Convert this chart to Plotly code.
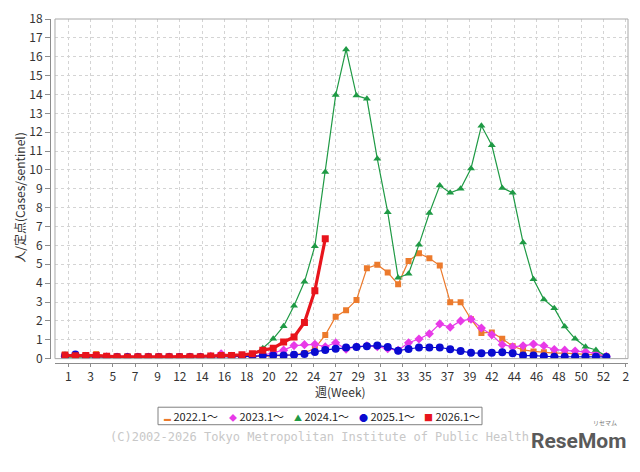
import plotly.graph_objects as go

weeks = list(range(1, 54))

y2022 = [0.22, 0.15, 0.15, 0.25, 0.13, 0.10, 0.08, 0.08, 0.08, 0.08, 0.08, 0.08, 0.08, 0.08, 0.08, 0.10, 0.10, 0.10,
         0.10, 0.12, 0.15, 0.17, 0.20, 0.30, 0.55, 1.25, 2.22, 2.56, 3.11, 4.79, 4.98, 4.57, 3.94, 5.18, 5.58, 5.32,
         4.93, 2.99, 2.99, 2.09, 1.36, 1.39, 1.05, 0.66, 0.46, 0.38, 0.34, 0.29, 0.29, 0.26, 0.24, 0.20, 0.12]
y2023 = [0.12, 0.15, 0.12, 0.12, 0.10, 0.08, 0.08, 0.08, 0.08, 0.08, 0.08, 0.08, 0.08, 0.08, 0.12, 0.26, 0.12, 0.12,
         0.12, 0.18, 0.30, 0.45, 0.69, 0.74, 0.76, 0.63, 0.84, 0.50, 0.63, 0.68, 0.63, 0.53, 0.44, 0.84, 1.04, 1.32,
         1.84, 1.66, 2.00, 2.09, 1.62, 1.26, 0.74, 0.63, 0.68, 0.77, 0.68, 0.48, 0.45, 0.40, 0.36, 0.28, 0.12]
y2024 = [0.08, 0.08, 0.08, 0.08, 0.08, 0.08, 0.08, 0.08, 0.08, 0.08, 0.08, 0.08, 0.08, 0.08, 0.08, 0.08, 0.08, 0.12,
         0.22, 0.55, 1.05, 1.72, 2.80, 4.07, 5.96, 9.89, 13.97, 16.39, 13.94, 13.77, 10.59, 7.76, 4.29, 4.50, 6.04, 7.72,
         9.17, 8.79, 9.00, 10.08, 12.34, 11.31, 9.05, 8.79, 6.16, 4.21, 3.14, 2.67, 1.70, 1.05, 0.63, 0.46, 0.12]
y2025 = [0.15, 0.22, 0.12, 0.10, 0.08, 0.08, 0.08, 0.08, 0.08, 0.08, 0.08, 0.08, 0.08, 0.08, 0.08, 0.08, 0.08, 0.08,
         0.12, 0.16, 0.17, 0.16, 0.20, 0.24, 0.35, 0.46, 0.52, 0.59, 0.62, 0.66, 0.69, 0.62, 0.42, 0.51, 0.59, 0.59,
         0.59, 0.50, 0.41, 0.31, 0.29, 0.31, 0.34, 0.29, 0.16, 0.16, 0.12, 0.10, 0.10, 0.10, 0.10, 0.10, 0.09]
y2026 = [0.18, 0.15, 0.17, 0.17, 0.13, 0.10, 0.09, 0.10, 0.10, 0.10, 0.10, 0.10, 0.10, 0.10, 0.14, 0.16, 0.17, 0.20,
         0.26, 0.45, 0.55, 0.88, 1.15, 1.92, 3.60, 6.35]

series_names = ["2022.1～", "2023.1～", "2024.1～", "2025.1～", "2026.1～"]
tick_labels = ["1", "3", "5", "7", "9", "12", "14", "16", "18", "20", "22", "24", "27", "29", "31", "33", "35",
               "37", "39", "42", "44", "46", "48", "50", "52", "2"]

FONT = "Noto Sans CJK JP"
styles = [
    dict(color="#ec7a2c", symbol="square", size=6, width=1.2, glyph="▬", gsize=7),
    dict(color="#e83ae8", symbol="diamond", size=7, width=1.2, glyph="◆", gsize=8),
    dict(color="#1f9a45", symbol="triangle-up", size=7, width=1.2, glyph="▲", gsize=8),
    dict(color="#0a0ad0", symbol="circle", size=8, width=1.2, glyph="●", gsize=9),
    dict(color="#e8141c", symbol="square", size=7, width=3.2, glyph="■", gsize=9),
]
data = [y2022, y2023, y2024, y2025, y2026]

fig = go.Figure()
for name, ys, st in zip(series_names, data, styles):
    fig.add_trace(go.Scatter(
        x=weeks[:len(ys)], y=ys, name=name, mode="lines+markers", showlegend=False,
        line=dict(color=st["color"], width=st["width"]),
        marker=dict(symbol=st["symbol"], size=st["size"], color=st["color"]),
    ))

tickvals = [1.317 + k * 2.142 for k in range(len(tick_labels))]

fig.update_layout(
    width=640, height=472,
    margin=dict(l=50, r=12, t=9, b=109),
    paper_bgcolor="white", plot_bgcolor="white",
    font=dict(family=FONT, size=12, color="#333333"),
    showlegend=False,
    xaxis=dict(range=[0.04, 55.08], domain=[0.00865, 1], anchor="free", position=0,
               tickmode="array", tickvals=tickvals, ticktext=tick_labels,
               showgrid=True, gridcolor="#d4d4d4", griddash="3px,3px", gridwidth=1,
               showline=True, linecolor="#8c8c8c", linewidth=1,
               ticks="outside", ticklen=3, tickcolor="#8c8c8c", ticklabeloverflow="allow",
               zeroline=False, tickfont=dict(size=12, color="#333333")),
    yaxis=dict(range=[0, 18.0005], domain=[0.0127, 1], anchor="free", position=0,
               tickmode="array", tickvals=list(range(0, 19)),
               showgrid=True, gridcolor="#d4d4d4", griddash="3px,3px", gridwidth=1,
               showline=True, linecolor="#8c8c8c", linewidth=1,
               ticks="outside", ticklen=5, tickcolor="#8c8c8c", ticklabeloverflow="allow",
               zeroline=False, tickfont=dict(size=12, color="#333333")),
)

fig.add_shape(type="rect", xref="x domain", yref="y domain", x0=0, x1=1, y0=0, y1=1,
              line=dict(color="#a8a8a8", width=1), layer="above")

# legend box (JFreeChart style, markers only)
def px_x(p):
    return (p - 50) / 578.0

def px_y(p):
    return (363 - p) / 354.0

fig.add_shape(type="rect", xref="paper", yref="paper", x0=px_x(158), x1=px_x(482), y0=px_y(426.5), y1=px_y(408.5),
              line=dict(color="#808080", width=1), fillcolor="white")
for i, (name, st) in enumerate(zip(series_names, styles)):
    fig.add_annotation(
        text=f"<span style='color:{st['color']};font-size:{st['gsize']}px'>{st['glyph']}</span> {name}",
        xref="paper", yref="paper", x=px_x(162 + 65 * i), y=px_y(417.5),
        showarrow=False, xanchor="left", yanchor="middle",
        font=dict(size=11, color="#222222"))

fig.add_annotation(text="人/定点(Cases/sentinel)", xref="paper", yref="paper", x=-0.052, y=0.483,
                   textangle=-90, showarrow=False, xanchor="center", yanchor="middle",
                   font=dict(size=12, color="#333333"))
fig.add_annotation(text="週(Week)", xref="paper", yref="paper", x=0.503, y=-0.084,
                   showarrow=False, xanchor="center", yanchor="middle",
                   font=dict(size=12, color="#333333"))
fig.add_annotation(text="(C)2002-2026 Tokyo Metropolitan Institute of Public Health", xref="paper", yref="paper",
                   x=0.467, y=-0.214, showarrow=False, xanchor="center", yanchor="middle",
                   font=dict(size=12, color="#c8c8c8", family="DejaVu Sans Mono"))
fig.add_annotation(text="<b>ReseMom</b>", xref="paper", yref="paper", x=0.915, y=-0.228,
                   showarrow=False, xanchor="center", yanchor="middle",
                   font=dict(size=21, color="#5a5a5a", family="Roboto"))
fig.add_annotation(text="リセマム", xref="paper", yref="paper", x=0.96, y=-0.172,
                   showarrow=False, xanchor="center", yanchor="middle",
                   font=dict(size=6, color="#777777"))

fig.write_html("out.html")
